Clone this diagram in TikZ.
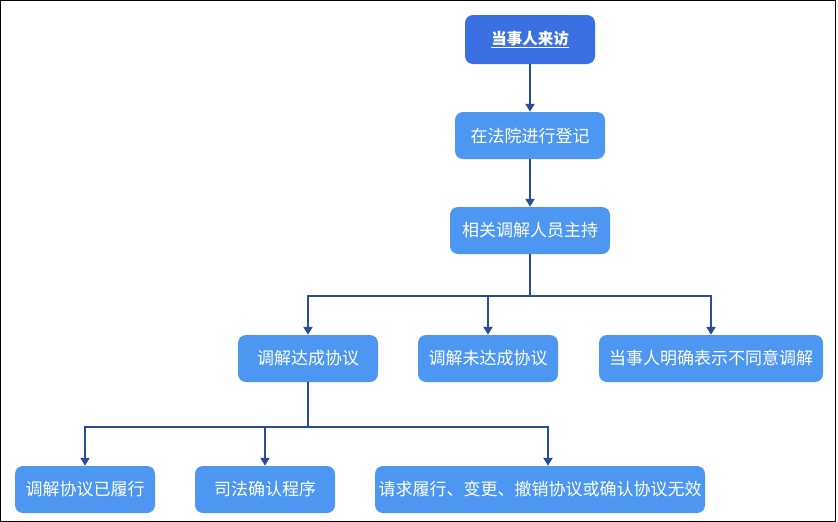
\documentclass[tikz,border=0pt]{standalone}
\usepackage{fontspec}
\setmainfont{Noto Sans CJK SC}
\usetikzlibrary{arrows.meta}
\definecolor{boxblue}{HTML}{4D97F3}
\definecolor{topblue}{HTML}{3A70E2}
\definecolor{linkblue}{HTML}{2B4B9B}
\tikzset{
  stepbox/.style={fill=boxblue, text=white, rounded corners=8pt, minimum height=47pt,
    inner sep=0pt, font=\fontsize{17}{20}\selectfont},
  link/.style={draw=linkblue, line width=2pt},
  arr/.style={link, -{Triangle[width=9pt,length=8pt]}}
}
\begin{document}
\begin{tikzpicture}[x=1pt, y=-1pt]
\useasboundingbox (0,0) rectangle (838,522);
\draw[line width=1pt] (0.5,0.5) rectangle (835.5,521);

% top chain
\node[stepbox, fill=topblue, minimum width=130pt, minimum height=49pt,
  font=\fontsize{15.5}{18}\selectfont\bfseries] (visit) at (530,39.5) {\underline{当事人来访}};
\node[stepbox, minimum width=150pt] (register) at (530,135.5) {在法院进行登记};
\node[stepbox, minimum width=160pt] (host) at (530,230.5) {相关调解人员主持};

% results of mediation
\node[stepbox, minimum width=140pt] (agree) at (308,358.5) {调解达成协议};
\node[stepbox, minimum width=140pt] (fail) at (488,358.5) {调解未达成协议};
\node[stepbox, minimum width=224pt] (refuse) at (711,358.5) {当事人明确表示不同意调解};

% after agreement
\node[stepbox, minimum width=140pt] (done) at (85,489.5) {调解协议已履行};
\node[stepbox, minimum width=140pt] (judicial) at (265,489.5) {司法确认程序};
\node[stepbox, minimum width=330pt] (request) at (540,489.5) {请求履行、变更、撤销协议或确认协议无效};

\draw[arr] (visit) -- (register);
\draw[arr] (register) -- (host);

\coordinate (bar1) at (530,296);
\draw[link] (host) -- (bar1);
\draw[arr] (bar1) -| (agree);
\draw[arr] (bar1) -| (fail);
\draw[arr] (bar1) -| (refuse);

\coordinate (bar2) at (308,427);
\draw[link] (agree) -- (bar2);
\draw[arr] (bar2) -| (done);
\draw[arr] (bar2) -| (judicial);
\draw[arr] (bar2) -| ([xshift=8pt]request.north);
\end{tikzpicture}
\end{document}
